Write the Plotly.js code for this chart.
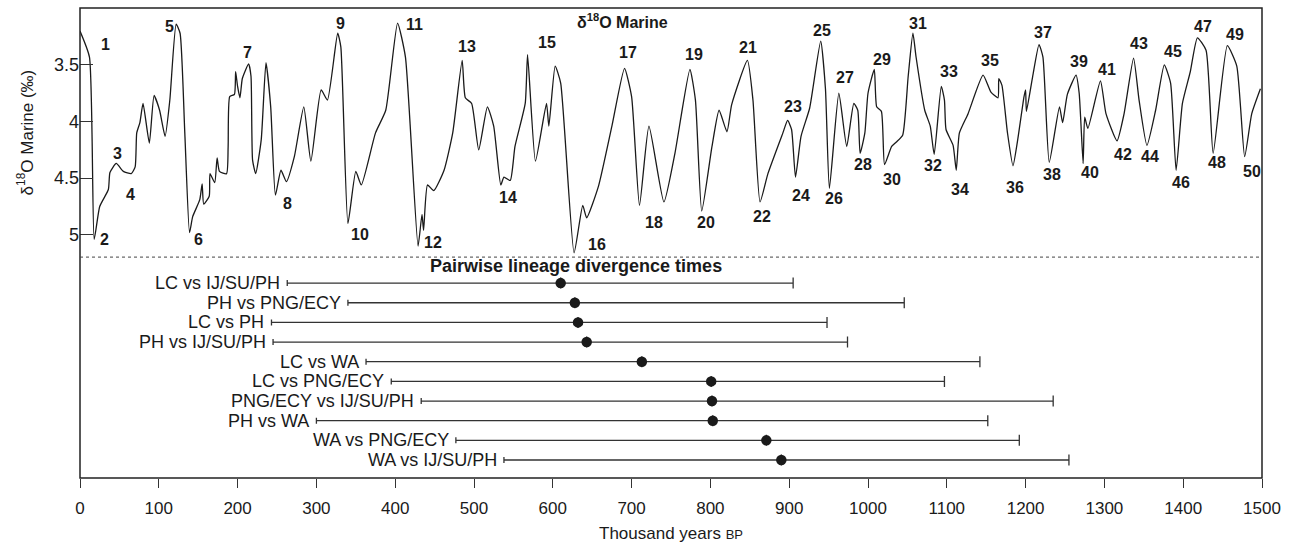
<!DOCTYPE html>
<html>
<head>
<meta charset="utf-8">
<script src="https://cdn.plot.ly/plotly-3.0.1.min.js"></script>
<style>html,body{margin:0;padding:0;background:#fff;}#chart{width:1295px;height:545px;}</style>
</head>
<body>
<div id="chart"></div>
<script>
// ---- δ18O marine record (thousand years BP, ‰) ----
const years = [0,12,18,25,36,38,46,55,65,70,72,76,80,88,94,101,108,114,122,127,133,139,143,152,155,157,164,165,171,174,177,186,188,190,196,197.5,200,203,206,214,217,219,223,230,236,242,248,255,262,272,284,293,306,314,327,331,340,350,357,375,388,403,413,429,434,436,441,449,462,473,485,489,497,506,517,525,534,538,546,552,565,568,578,592,595,603,610,627,638,643,658,675,691,700,710,722,741,755,774,781,789,802,811,821,827,847,854,863,873,892,898,903,908,915,926,940,946,951,963,973,982,987,990,996,1000,1008,1011,1017,1021,1030,1036,1044,1051,1057,1061,1072,1079,1084,1093,1097,1099,1108,1112,1116,1127,1146,1156,1165,1166,1170,1177,1184,1190,1198,1200,1201,1209,1217,1222,1230,1243,1247,1253,1264,1268,1273,1275,1279,1295,1302,1316,1325,1337,1344,1354,1365,1376,1384,1391,1399,1409,1418,1429,1438,1456,1468,1478,1487,1498];
const d18O = [3.20,3.43,5.04,4.75,4.60,4.45,4.37,4.44,4.46,4.40,4.10,4.01,3.84,4.19,3.77,3.90,4.13,3.81,3.14,3.22,4.10,4.98,4.84,4.69,4.55,4.73,4.66,4.46,4.54,4.32,4.44,4.46,4.22,3.78,3.76,3.56,3.69,3.79,3.62,3.49,3.60,4.34,4.46,4.16,3.48,3.87,4.65,4.43,4.53,4.31,3.87,4.35,3.72,3.81,3.22,3.34,4.90,4.44,4.56,4.10,3.90,3.13,3.43,5.10,4.82,4.96,4.56,4.61,4.43,4.10,3.46,3.79,3.84,4.25,3.87,4.04,4.56,4.49,4.52,4.22,3.84,3.41,4.35,3.84,4.04,3.51,3.66,5.16,4.74,4.85,4.57,4.04,3.53,3.78,4.74,4.04,4.71,4.28,3.54,3.81,4.79,4.22,3.90,4.09,3.85,3.46,3.81,4.71,4.46,4.10,3.99,4.07,4.49,4.13,3.88,3.29,3.71,4.59,3.75,4.22,3.84,3.90,4.28,4.10,3.75,3.54,3.87,3.91,4.38,4.22,4.18,4.12,3.60,3.22,3.43,3.90,4.04,4.29,3.69,3.81,4.07,4.21,4.43,4.10,3.93,3.59,3.74,3.79,3.62,3.68,4.10,4.39,4.16,3.78,3.72,3.91,3.60,3.32,3.43,4.36,3.87,4.01,3.76,3.59,3.75,4.37,3.96,4.06,3.64,3.93,4.17,3.93,3.44,3.81,4.21,3.90,3.50,3.66,4.43,3.84,3.56,3.26,3.37,4.28,3.33,3.51,4.31,3.93,3.71];

// ---- Marine isotope stage labels ----
const misStage = ["1","2","3","4","5","6","7","8","9","10","11","12","13","14","15","16","17","18","19","20","21","22","23","24","25","26","27","28","29","30","31","32","33","34","35","36","37","38","39","40","41","42","43","44","45","46","47","48","49","50"];
const misX = [32,31,47,64,114,150,212,263,330,355,425,448,491,543,593,656,695,728,779,794,848,865,905,915,942,957,971,994,1018,1030,1063,1082,1103,1117,1155,1187,1222,1234,1268,1282,1303,1324,1344,1358,1387,1397,1425,1443,1466,1487];
const misY = [3.32,5.04,4.28,4.64,3.16,5.04,3.39,4.72,3.13,5.00,3.14,5.07,3.34,4.67,3.30,5.09,3.39,4.89,3.41,4.89,3.35,4.84,3.87,4.65,3.20,4.68,3.61,4.38,3.45,4.51,3.13,4.39,3.56,4.60,3.46,4.58,3.21,4.47,3.47,4.45,3.54,4.29,3.31,4.31,3.38,4.54,3.16,4.36,3.23,4.44];

// ---- Pairwise lineage divergence times (thousand years BP) ----
const pairs = ["LC vs IJ/SU/PH","PH vs PNG/ECY","LC vs PH","PH vs IJ/SU/PH","LC vs WA","LC vs PNG/ECY","PNG/ECY vs IJ/SU/PH","PH vs WA","WA vs PNG/ECY","WA vs IJ/SU/PH"];
const lower  = [263,340,243,245,363,395,433,300,477,538];
const median = [610,628,632,643,713,801,802,803,871,890];
const upper  = [905,1046,948,974,1142,1097,1235,1152,1192,1255];

const xTicks = [0,100,200,300,400,500,600,700,800,900,1000,1100,1200,1300,1400,1500];
const yTicks = [3.5,4,4.5,5];
const yTickText = ["3.5","4","4.5","5"];

const rowPos = pairs.map((_, i) => i + 1);
const FONT = "Liberation Sans, Arial, Helvetica, sans-serif";
const INK = "#1a1a1a";
const split = 0.470;

const traces = [
  {
    x: years, y: d18O, xaxis: "x", yaxis: "y",
    type: "scatter", mode: "lines",
    line: {color: INK, width: 1.3, shape: "spline", smoothing: 0.5},
    hoverinfo: "skip"
  },
  {
    x: median, y: rowPos, xaxis: "x", yaxis: "y2",
    type: "scatter", mode: "markers",
    marker: {size: 1, color: "rgba(0,0,0,0)"},
    error_x: {type: "data", symmetric: false,
      array: upper.map((u, i) => u - median[i]),
      arrayminus: median.map(() => 0),
      width: 5.5, thickness: 1.3, color: "#333"},
    hoverinfo: "skip"
  },
  {
    x: median, y: rowPos, xaxis: "x", yaxis: "y2",
    type: "scatter", mode: "markers",
    marker: {size: 10.5, color: INK},
    error_x: {type: "data", symmetric: false,
      array: median.map(() => 0),
      arrayminus: median.map((m, i) => m - lower[i]),
      width: 3, thickness: 1.3, color: "#333"},
    hoverinfo: "skip"
  }
];

const annotations = [];
misStage.forEach((s, i) => {
  annotations.push({
    x: misX[i], y: misY[i], xref: "x", yref: "y", text: s, showarrow: false,
    font: {family: FONT, size: 16, color: INK, weight: "bold"},
    xanchor: "center", yanchor: "middle"
  });
});
pairs.forEach((p, i) => {
  annotations.push({
    x: lower[i], y: rowPos[i], xref: "x", yref: "y2", text: p, showarrow: false,
    font: {family: FONT, size: 18, color: INK},
    xanchor: "right", yanchor: "middle", xshift: -5
  });
});
annotations.push({
  x: 0.459, y: 0.972, xref: "paper", yref: "paper",
  text: "<b>δ<sup>18</sup>O Marine</b>", showarrow: false,
  font: {family: FONT, size: 16, color: INK}, xanchor: "center", yanchor: "middle"
});
annotations.push({
  x: 0.4196, y: 0.451, xref: "paper", yref: "paper",
  text: "<b>Pairwise lineage divergence times</b>", showarrow: false,
  font: {family: FONT, size: 18, color: INK}, xanchor: "center", yanchor: "middle"
});

const layout = {
  width: 1295, height: 545,
  margin: {l: 80, r: 33, t: 8, b: 67, pad: 0},
  paper_bgcolor: "#fff", plot_bgcolor: "#fff",
  showlegend: false, hovermode: false,
  font: {family: FONT, color: INK},
  xaxis: {
    range: [0, 1500], tickvals: xTicks, ticks: "outside", ticklen: 9,
    tickwidth: 1, tickcolor: "#333", showline: false, showgrid: false, zeroline: false,
    anchor: "y2", tickfont: {family: FONT, size: 17, color: INK}, ticklabelstandoff: 6,
    title: {text: "Thousand years <span style=\"font-size:13px\">BP</span>",
            font: {family: FONT, size: 17, color: INK}, standoff: 9}
  },
  yaxis: {
    domain: [split, 1], range: [5.197, 2.997], tickvals: yTicks, ticktext: yTickText,
    ticks: "inside", ticklen: 13, tickwidth: 1, tickcolor: "#333",
    showline: false, showgrid: false, zeroline: false, anchor: "x",
    tickfont: {family: FONT, size: 18, color: INK},
    title: {text: "δ<sup>18</sup>O Marine (‰)", font: {family: FONT, size: 17, color: INK}, standoff: 16}
  },
  yaxis2: {
    domain: [0, split], range: [10.915, -0.322], visible: false,
    showgrid: false, zeroline: false, anchor: "x", fixedrange: true
  },
  shapes: [
    {type: "rect", xref: "paper", yref: "paper", x0: 0, x1: 1, y0: 0, y1: 1,
     line: {color: "#222", width: 1.5}, fillcolor: "rgba(0,0,0,0)"},
    {type: "line", xref: "paper", yref: "paper", x0: 0, x1: 1, y0: split, y1: split,
     line: {color: "#444", width: 1, dash: "dot"}}
  ],
  annotations: annotations
};

Plotly.newPlot("chart", traces, layout, {staticPlot: true, displayModeBar: false});
</script>
</body>
</html>
